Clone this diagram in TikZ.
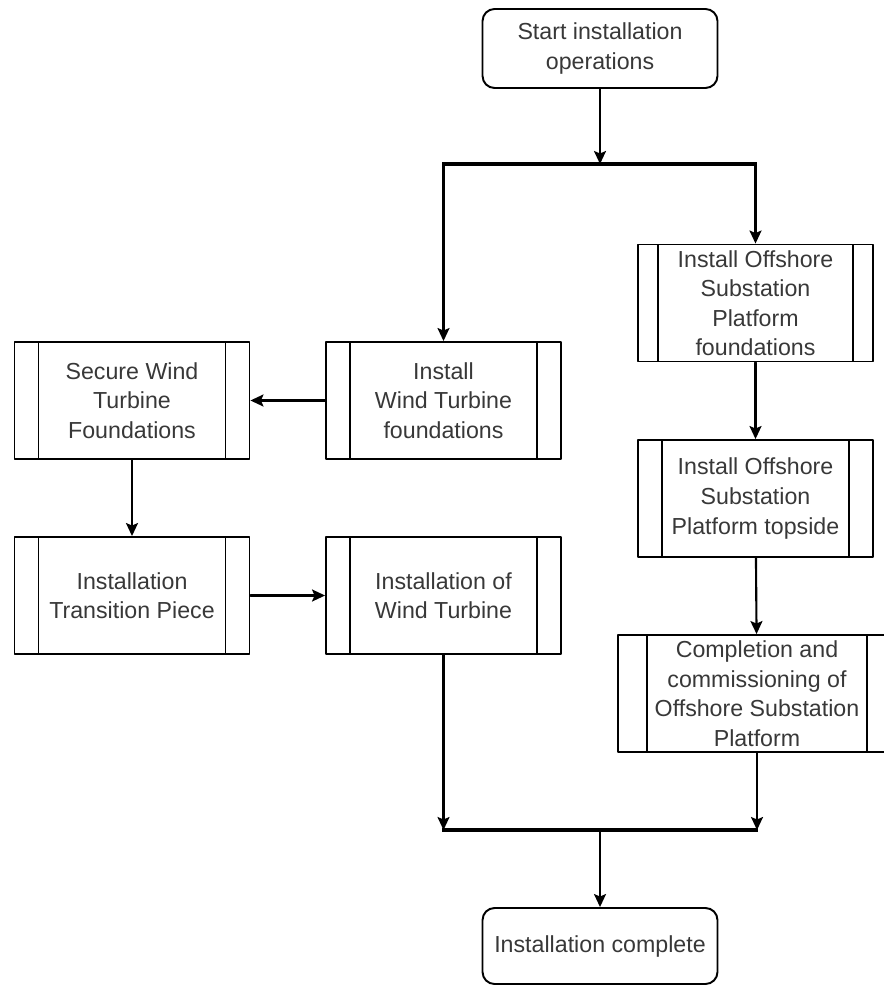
\documentclass[tikz,border=0pt]{standalone}
\usepackage{fontspec}
\setmainfont{Liberation Sans}
\usetikzlibrary{arrows.meta}

\begin{document}
\begin{tikzpicture}[
    x=0.02cm, y=-0.02cm,
    line cap=round,
    line join=round,
    every node/.style={font=\fontsize{13.2}{16.8}\selectfont, text=black!78, align=center, inner sep=0pt},
    terminal/.style={draw, line width=1.1pt, rounded corners=0.24cm, minimum width=4.7cm, minimum height=1.58cm},
    subproc/.style={draw, line width=1.1pt, minimum width=4.7cm, minimum height=2.34cm,
        path picture={
            \draw[line width=1.1pt] ([xshift=#1]path picture bounding box.north west) -- ([xshift=#1]path picture bounding box.south west);
            \draw[line width=1.1pt] ([xshift=-#1]path picture bounding box.north east) -- ([xshift=-#1]path picture bounding box.south east);
        }},
    subproc/.default=0.48cm,
    arr/.style={line width=1.2pt, -{Stealth[length=0.26cm, width=0.24cm, inset=0.05cm]}},
    bar/.style={line width=2.4pt, line cap=butt}
]

\useasboundingbox (0,0) rectangle (883,986);

% -------------------------------------------------
% Start and end
% -------------------------------------------------

\node[terminal] (start) at (600,48.5) {Start installation\\operations};
\node[terminal, minimum height=1.52cm] (finish) at (600,946) {Installation complete};

% -------------------------------------------------
% Wind turbine branch
% -------------------------------------------------

\node[subproc] (wtf)    at (443.5,400.5) {Install\\Wind Turbine\\foundations};
\node[subproc] (secure) at (132,400.5)   {Secure Wind\\Turbine\\Foundations};
\node[subproc] (tp)     at (132,595.5)   {Installation\\Transition Piece};
\node[subproc] (wt)     at (443.5,595.5) {Installation of\\Wind Turbine};

% -------------------------------------------------
% Offshore substation branch
% -------------------------------------------------

\node[subproc=0.4cm] (ospf) at (755.5,303)   {Install Offshore\\Substation\\Platform\\foundations};
\node[subproc]       (ospt) at (755.5,498.5) {Install Offshore\\Substation\\Platform topside};
\node[subproc=0.58cm, minimum width=5.56cm] (comp) at (757,693.5) {Completion and\\commissioning of\\Offshore Substation\\Platform};

% -------------------------------------------------
% Fork and join bars
% -------------------------------------------------

\coordinate (forkM) at (600,164);
\coordinate (forkL) at (wtf.north |- forkM);
\coordinate (forkR) at (ospf.north |- forkM);

\coordinate (joinM) at (600,830);
\coordinate (joinL) at (wt.south |- joinM);
\coordinate (joinR) at (comp.south |- joinM);

\draw[bar] ([xshift=-0.6pt]forkL) -- ([xshift=0.6pt]forkR);
\draw[bar] ([xshift=-0.6pt]joinL) -- ([xshift=0.6pt]joinR);

% -------------------------------------------------
% Connectors
% -------------------------------------------------

\draw[arr] (start) -- (forkM);
\draw[arr] (forkL) -- (wtf);
\draw[arr] (forkR) -- (ospf);

\draw[arr] (wtf) -- (secure);
\draw[arr] (secure) -- (tp);
\draw[arr] (tp) -- (wt);

\draw[arr] (ospf) -- (ospt);
\draw[arr] (ospt) -- (comp);

\draw[arr] (wt) -- (joinL);
\draw[arr] (comp) -- (joinR);
\draw[arr] (joinM) -- (finish);

\end{tikzpicture}
\end{document}
